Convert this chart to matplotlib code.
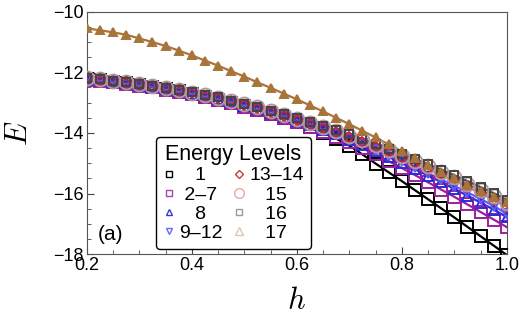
import matplotlib
matplotlib.use('Agg')
import matplotlib.pyplot as plt
from matplotlib.lines import Line2D
from matplotlib.ticker import MultipleLocator
import numpy as np

plt.rcParams['font.family'] = ['Liberation Sans', 'DejaVu Sans']
plt.rcParams['mathtext.fontset'] = 'cm'

# field values h (grid of the plotted points)
h = [0.2, 0.225, 0.25, 0.275, 0.3, 0.325, 0.35, 0.375, 0.4, 0.425, 0.45,
     0.475, 0.5, 0.525, 0.55, 0.575, 0.6, 0.625, 0.65, 0.675, 0.7, 0.725,
     0.75, 0.775, 0.8, 0.825, 0.85, 0.875, 0.9, 0.925, 0.95, 0.975, 1.0]

E_1 = [-12.22, -12.26, -12.31, -12.36, -12.42, -12.48, -12.55, -12.63, -12.71, -12.80, -12.90,
       -13.00, -13.11, -13.23, -13.36, -13.50, -13.65, -13.81, -13.99, -14.19, -14.42, -14.71,
       -15.01, -15.30, -15.59, -15.89, -16.19, -16.49, -16.79, -17.10, -17.41, -17.72, -18.03]
E_2_7 = [-12.24, -12.28, -12.33, -12.38, -12.44, -12.50, -12.57, -12.65, -12.73, -12.82, -12.92,
         -13.02, -13.13, -13.25, -13.38, -13.51, -13.65, -13.80, -13.96, -14.13, -14.31, -14.51,
         -14.71, -14.93, -15.16, -15.39, -15.63, -15.87, -16.11, -16.36, -16.61, -16.86, -17.11]
E_8 = [-12.22, -12.26, -12.31, -12.36, -12.42, -12.48, -12.55, -12.62, -12.70, -12.79, -12.89,
       -12.99, -13.10, -13.21, -13.34, -13.47, -13.61, -13.75, -13.90, -14.05, -14.23, -14.41,
       -14.59, -14.78, -15.00, -15.20, -15.41, -15.62, -15.85, -16.07, -16.30, -16.53, -16.78]
E_9_12 = [-12.21, -12.25, -12.30, -12.35, -12.41, -12.47, -12.54, -12.61, -12.69, -12.78, -12.88,
          -12.98, -13.09, -13.20, -13.32, -13.45, -13.59, -13.73, -13.87, -14.02, -14.19, -14.37,
          -14.55, -14.74, -14.94, -15.13, -15.33, -15.53, -15.75, -15.96, -16.18, -16.41, -16.67]
E_13_14 = [-12.20, -12.24, -12.29, -12.34, -12.40, -12.46, -12.53, -12.60, -12.68, -12.77, -12.86,
           -12.96, -13.07, -13.18, -13.30, -13.43, -13.56, -13.69, -13.83, -13.98, -14.13, -14.30,
           -14.47, -14.64, -14.82, -15.00, -15.18, -15.37, -15.56, -15.77, -15.98, -16.20, -16.43]
E_15 = [-12.19, -12.23, -12.28, -12.33, -12.39, -12.45, -12.52, -12.59, -12.67, -12.75, -12.84,
        -12.94, -13.05, -13.16, -13.28, -13.40, -13.53, -13.66, -13.80, -13.94, -14.09, -14.25,
        -14.41, -14.58, -14.75, -14.92, -15.10, -15.28, -15.47, -15.67, -15.88, -16.09, -16.31]
E_16 = [-12.18, -12.22, -12.27, -12.32, -12.38, -12.44, -12.51, -12.58, -12.66, -12.74, -12.83,
        -12.93, -13.03, -13.14, -13.26, -13.38, -13.50, -13.63, -13.76, -13.90, -14.05, -14.20,
        -14.36, -14.52, -14.69, -14.86, -15.03, -15.21, -15.40, -15.59, -15.79, -15.99, -16.20]
E_17 = [-10.55, -10.61, -10.68, -10.76, -10.88, -11.00, -11.13, -11.28, -11.44, -11.61, -11.78,
        -11.96, -12.14, -12.33, -12.51, -12.70, -12.89, -13.09, -13.29, -13.50, -13.71, -13.93,
        -14.15, -14.38, -14.61, -14.84, -15.06, -15.28, -15.50, -15.71, -15.91, -16.10, -16.28]

labels = ['   1   ', ' 2\u20137 ', '   8   ', '9\u201312', '13\u201314', '   15   ', '   16   ', '   17   ']
series = [E_1, E_2_7, E_8, E_9_12, E_13_14, E_15, E_16, E_17]
markers = ['s', 's', '^', 'v', 'D', 'o', 's', '^']
colors = ['black', '#9b1fa0', '#2b2bd6', '#5a5aff', '#d0202a', '#b09a9a', '#444444', '#a8743a']
sizes = [8, 8, 7, 7, 5.5, 10, 6, 5.5]
fills = ['none'] * 7 + ['#a8743a']
leg_colors = ['black', '#a04aa6', '#3a3ad0', '#6a6aff', '#d03a3a', '#f0a6a6', '#9a9a9a', '#dcc8b0']
leg_sizes = [4, 4, 5, 5, 4, 7, 4, 6]

fig = plt.figure(figsize=(5.23, 3.27), dpi=100)
ax = fig.add_axes([0.166, 0.223, 0.803, 0.741])

for E, m, c, s, f in zip(series, markers, colors, sizes, fills):
    ax.plot(h, E, color=c, lw=1.6, zorder=2)
    ax.plot(h, E, ls='none', marker=m, ms=s, mfc=f, mec=c, mew=1.4, zorder=3)

ax.set_xlim(0.2, 1.0)
ax.set_ylim(-18, -10)
ax.xaxis.set_minor_locator(MultipleLocator(0.05))
ax.yaxis.set_minor_locator(MultipleLocator(0.5))
ax.set_xticks([0.2, 0.4, 0.6, 0.8, 1.0])
ax.set_xticklabels(['0.2', '0.4', '0.6', '0.8', '1.0'])
ax.set_yticks([-18, -16, -14, -12, -10])
ax.set_yticklabels(['\u221218', '\u221216', '\u221214', '\u221212', '\u221210'])
ax.tick_params(which='both', direction='in', labelsize=13, color='#444444', pad=2)
ax.tick_params(which='major', length=5)
ax.tick_params(which='minor', length=3)
for sp in ax.spines.values():
    sp.set_color('#555555')

ax.set_xlabel('$h$', fontsize=22, labelpad=9)
ax.set_ylabel('$E$', fontsize=22, labelpad=14)

ax.text(0.025, 0.04, '(a)', transform=ax.transAxes, fontsize=15, ha='left', va='bottom')

handles = [Line2D([], [], ls='none', marker=m, ms=s, mfc='none', mec=c, mew=1.0)
           for m, c, s in zip(markers, leg_colors, leg_sizes)]
leg = ax.legend(handles, labels, ncol=2, title='Energy Levels', loc='lower left',
                bbox_to_anchor=(0.165, 0.022), fontsize=14, title_fontsize=15.5,
                frameon=True, fancybox=True, edgecolor='black', framealpha=1,
                handlelength=0.6, handletextpad=0.25, columnspacing=0.5,
                labelspacing=0.08, borderpad=0.35, borderaxespad=0)
leg.get_frame().set_linewidth(1.0)

fig.savefig('out.png', dpi=100)
